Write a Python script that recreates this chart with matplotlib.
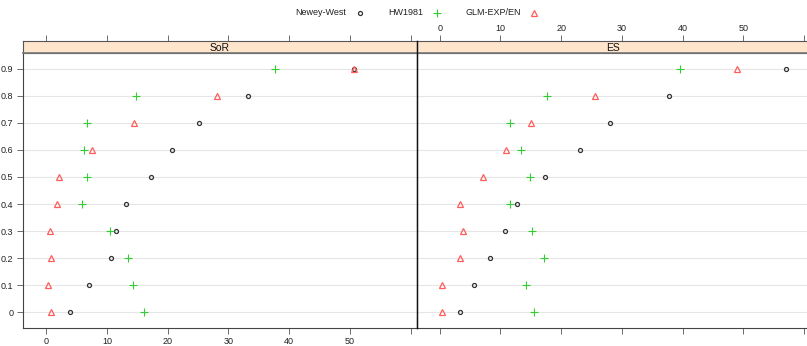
import numpy as np
import matplotlib
matplotlib.use("Agg")
import matplotlib.pyplot as plt

plt.rcParams['font.family'] = ['Liberation Sans', 'DejaVu Sans']

levels = [0, 0.1, 0.2, 0.3, 0.4, 0.5, 0.6, 0.7, 0.8, 0.9]
level_labels = ['0', '0.1', '0.2', '0.3', '0.4', '0.5', '0.6', '0.7', '0.8', '0.9']
panels = ['SoR', 'ES']
series = ['Newey-West', 'HW1981', 'GLM-EXP/EN']

# values read per level (0 .. 0.9)
sor_nw = [3.9, 7.1, 10.7, 11.5, 13.1, 17.2, 20.7, 25.1, 33.2, 50.7]
sor_hw = [16.1, 14.3, 13.4, 10.5, 5.8, 6.7, 6.2, 6.7, 14.8, 37.6]
sor_glm = [0.8, 0.2, 0.8, 0.55, 1.8, 2.1, 7.5, 14.4, 28.1, 50.7]
es_nw = [3.4, 5.6, 8.3, 10.7, 12.8, 17.4, 23.1, 28.0, 37.8, 57.0]
es_hw = [15.6, 14.2, 17.2, 15.2, 11.6, 14.8, 13.4, 11.6, 17.6, 39.5]
es_glm = [0.4, 0.4, 3.3, 3.8, 3.3, 7.05, 10.9, 15.0, 25.5, 49.0]

data = {'SoR': [sor_nw, sor_hw, sor_glm], 'ES': [es_nw, es_hw, es_glm]}
xticks = [0, 10, 20, 30, 40, 50, 60]

colors = ['#333333', '#33cc33', '#ff5c5c']
markers = ['o', '+', '^']
msizes = [2.9, 5.6, 3.9]

fig = plt.figure(figsize=(8.07, 3.46), dpi=100)
W, H = 807.0, 346.0
xlim = (-3.8, 61.0)
ylim = (-0.058, 0.958)
px0, pw = 23.3, 393.4
pbot, ptop = 327.7, 53.3
stop = 41.0

for i, name in enumerate(panels):
    left = (px0 + i * pw) / W
    ax = fig.add_axes([left, 1 - pbot / H, pw / W, (pbot - ptop) / H])
    for lv in levels:
        ax.axhline(lv, color='#e6e6e6', lw=0.8, zorder=0)
    for vals, c, m, ms in zip(data[name], colors, markers, msizes):
        if m == '+':
            ax.plot(vals, levels, ls='none', marker=m, ms=ms, mew=0.8, color=c, zorder=3)
        else:
            ax.plot(vals, levels, ls='none', marker=m, ms=ms, mew=0.9, mfc='none', mec=c, zorder=3)
    ax.set_xlim(xlim)
    ax.set_ylim(ylim)
    ax.set_xticks(xticks)
    ax.set_yticks(levels)
    ax.tick_params(direction='out', length=4, width=0.6, color='#555555', labelsize=6.5,
                   labelcolor='#222222', pad=3)
    if i == 0:
        ax.set_xticklabels(['0', '10', '20', '30', '40', '50', ''])
        ax.set_yticklabels(level_labels)
    else:
        ax.set_xticklabels([])
        ax.tick_params(axis='y', left=False, labelleft=False)
    for sp in ax.spines.values():
        sp.set_color('#444444')
        sp.set_linewidth(0.8)
    if i == 1:
        ax.spines['left'].set_color('#111111')

    sx = fig.add_axes([left, 1 - ptop / H, pw / W, (ptop - stop) / H])
    sx.set_facecolor('#ffe5cc')
    sx.set_xlim(xlim)
    sx.set_yticks([])
    sx.xaxis.set_ticks_position('top')
    sx.set_xticks(xticks)
    sx.tick_params(direction='out', length=4, width=0.6, color='#555555', labelsize=6.5,
                   labelcolor='#222222', pad=2)
    if i == 1:
        sx.set_xticklabels(['0', '10', '20', '30', '40', '50', ''])
    else:
        sx.set_xticklabels([])
    for sp in sx.spines.values():
        sp.set_color('#555555')
        sp.set_linewidth(0.8)
    sx.spines['bottom'].set_color('#777777')
    sx.spines['bottom'].set_linewidth(1.2)
    sx.text(0.5, 0.45, name, transform=sx.transAxes, ha='center', va='center',
            fontsize=7.5, color='#111111')

# divider between the two panels
fig.add_artist(plt.Line2D([(px0 + pw) / W] * 2, [1 - pbot / H, 1 - stop / H],
                          color='#111111', lw=1.0))

# legend across the top
ly = 1 - 12.7 / H
text_right = [346, 423, 521]
mark_x = [360, 436.7, 534.3]
for s, tr, mx, c, m, ms in zip(series, text_right, mark_x, colors, markers, msizes):
    fig.text(tr / W, ly, s, ha='right', va='center', fontsize=6.5, color='#222222')
    if m == '+':
        fig.add_artist(plt.Line2D([mx / W], [ly], ls='none', marker=m, ms=ms, mew=0.8, color=c))
    else:
        fig.add_artist(plt.Line2D([mx / W], [ly], ls='none', marker=m, ms=ms, mew=0.9,
                                  mfc='none', mec=c))

fig.savefig('out.png', dpi=100)
